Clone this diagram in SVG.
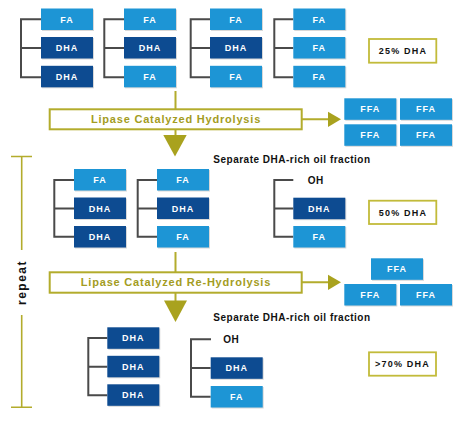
<svg xmlns="http://www.w3.org/2000/svg" width="474" height="421" viewBox="0 0 474 421">
<style>
.fa{fill:#1d95d5}
.dha{fill:#0d4b91}
.sh{fill:#d8d8d8}
.lb{font-family:"Liberation Sans",Arial,sans-serif;font-weight:bold;font-size:9px;fill:#fff;text-anchor:middle;letter-spacing:1px}
.br{stroke:#4a4a4a;stroke-width:2;fill:none}
.ol{stroke:#b3ac2c;stroke-width:2;fill:none}
.olf{fill:#a9a21e}
.proc{fill:#fff;stroke:#b3ac2c;stroke-width:2}
.ptxt{font-family:"Liberation Sans",Arial,sans-serif;font-weight:bold;font-size:11px;fill:#a39c22;text-anchor:middle;letter-spacing:0.8px}
.blk{font-family:"Liberation Sans",Arial,sans-serif;font-weight:bold;font-size:10px;fill:#111;letter-spacing:0.5px}
.pct{fill:#fff;stroke:#c2bb3a;stroke-width:1.8}
.ptx{font-family:"Liberation Sans",Arial,sans-serif;font-weight:bold;font-size:9px;fill:#111;text-anchor:middle;letter-spacing:1.2px}
</style>
<defs>
<g id="bFA"><rect class="sh" x="1" y="1" width="52" height="21.5"/><rect class="fa" width="52" height="21.5"/><text class="lb" x="26" y="14.2">FA</text></g>
<g id="bDHA"><rect class="sh" x="1" y="1" width="52" height="21.5"/><rect class="dha" width="52" height="21.5"/><text class="lb" x="26" y="14.2">DHA</text></g>
<g id="bFFA"><rect class="sh" x="1" y="1" width="52" height="21.5"/><rect class="fa" width="52" height="21.5"/><text class="lb" x="26" y="14.2">FFA</text></g>
</defs>

<!-- Row 1 -->
<g id="r1g1">
<path class="br" d="M41,19.3H21V77.3H41M21,48H41"/>
<use href="#bFA" x="41" y="8.5"/><use href="#bDHA" x="41" y="37"/><use href="#bDHA" x="41" y="65.8"/>
</g>
<g id="r1g2">
<path class="br" d="M124,19.3H104.3V77.3H124M104.3,48H124"/>
<use href="#bFA" x="124" y="8.5"/><use href="#bDHA" x="124" y="37"/><use href="#bFA" x="124" y="65.8"/>
</g>
<g id="r1g3">
<path class="br" d="M210,19.3H190.7V77.3H210M190.7,48H210"/>
<use href="#bFA" x="210" y="8.5"/><use href="#bDHA" x="210" y="37"/><use href="#bFA" x="210" y="65.8"/>
</g>
<g id="r1g4">
<path class="br" d="M293.3,19.3H274.3V77.3H293.3M274.3,48H293.3"/>
<use href="#bFA" x="293.3" y="8.5"/><use href="#bFA" x="293.3" y="37"/><use href="#bFA" x="293.3" y="65.8"/>
</g>
<g id="pct25"><rect class="pct" x="369" y="39" width="67.3" height="23.7"/><text class="ptx" x="403" y="54">25% DHA</text></g>

<g id="hyd1"><rect class="proc" x="49.7" y="109.3" width="252" height="20"/><text class="ptxt" x="176" y="123.3">Lipase Catalyzed Hydrolysis</text></g>
<g id="ffa1">
<use href="#bFFA" x="344.3" y="98.3"/><use href="#bFFA" x="400" y="98.3"/>
<use href="#bFFA" x="344.3" y="124.3"/><use href="#bFFA" x="400" y="124.3"/>
</g>
<text id="sep1" class="blk" x="213.3" y="163.3">Separate DHA-rich oil fraction</text>

<!-- Row 2 -->
<g id="r2g1">
<path class="br" d="M74,180H54.3V236.8H74M54.3,208.4H74"/>
<use href="#bFA" x="74" y="169"/><use href="#bDHA" x="74" y="197.5"/><use href="#bDHA" x="74" y="226"/>
</g>
<g id="r2g2">
<path class="br" d="M157,180H137.7V236.8H157M137.7,208.4H157"/>
<use href="#bFA" x="157" y="169"/><use href="#bDHA" x="157" y="197.5"/><use href="#bFA" x="157" y="226"/>
</g>
<g id="r2g3">
<path class="br" d="M293.3,180H274.3V236.8H293.3M274.3,208.4H293.3"/>
<text class="blk" x="307.7" y="183.7">OH</text>
<use href="#bDHA" x="293.3" y="197.7"/><use href="#bFA" x="293.3" y="226"/>
</g>
<g id="pct50"><rect class="pct" x="369" y="200.7" width="67.3" height="23.3"/><text class="ptx" x="403" y="215.5">50% DHA</text></g>

<g id="hyd2"><rect class="proc" x="49.7" y="272.3" width="252" height="20.4"/><text class="ptxt" x="176" y="286.3">Lipase Catalyzed Re-Hydrolysis</text></g>
<g id="ffa2">
<use href="#bFFA" x="371" y="258.3"/>
<use href="#bFFA" x="344.3" y="284"/><use href="#bFFA" x="400" y="284"/>
</g>
<text id="sep2" class="blk" x="213.3" y="321">Separate DHA-rich oil fraction</text>

<!-- Row 3 -->
<g id="r3g1">
<path class="br" d="M107.3,338H88.3V395.3H107.3M88.3,366.7H107.3"/>
<use href="#bDHA" x="107.3" y="327.3"/><use href="#bDHA" x="107.3" y="355.8"/><use href="#bDHA" x="107.3" y="384.3"/>
</g>
<g id="r3g2">
<path class="br" d="M211,339.3H191V396.8H210.7M191,368H210.7"/>
<text class="blk" x="223.3" y="343">OH</text>
<use href="#bDHA" x="210.7" y="357.3"/><use href="#bFA" x="210.7" y="386"/>
</g>
<g id="pct70"><rect class="pct" x="369" y="352.3" width="67" height="23.4"/><text class="ptx" x="402.5" y="367.2">&gt;70% DHA</text></g>

<!-- repeat -->
<g id="repeat">
<path class="ol" style="stroke-width:1.6" d="M11,156.5H32M21.7,156.5V250M21.7,315V407.3M11,407.3H32"/>
<text transform="translate(26,282.5) rotate(-90)" style="font-family:'Liberation Sans',Arial,sans-serif;font-weight:bold;font-size:12px;fill:#111;text-anchor:middle;letter-spacing:1.5px">repeat</text>
</g>

<!-- connectors -->
<g id="connectors">
<path class="ol" d="M175.5,91V109.3M175.5,129.3V136M301.7,119.3H329M175.5,252V272.3M175.5,292.7V301M301.7,282.3H329"/>
<polygon class="olf" points="163.3,135 186.7,135 175,156.5"/>
<polygon class="olf" points="328,111.7 341,119.3 328,126.9"/>
<polygon class="olf" points="164,300.5 187,300.5 175.5,322"/>
<polygon class="olf" points="328,274.7 341,282.3 328,289.9"/>
</g>
</svg>
